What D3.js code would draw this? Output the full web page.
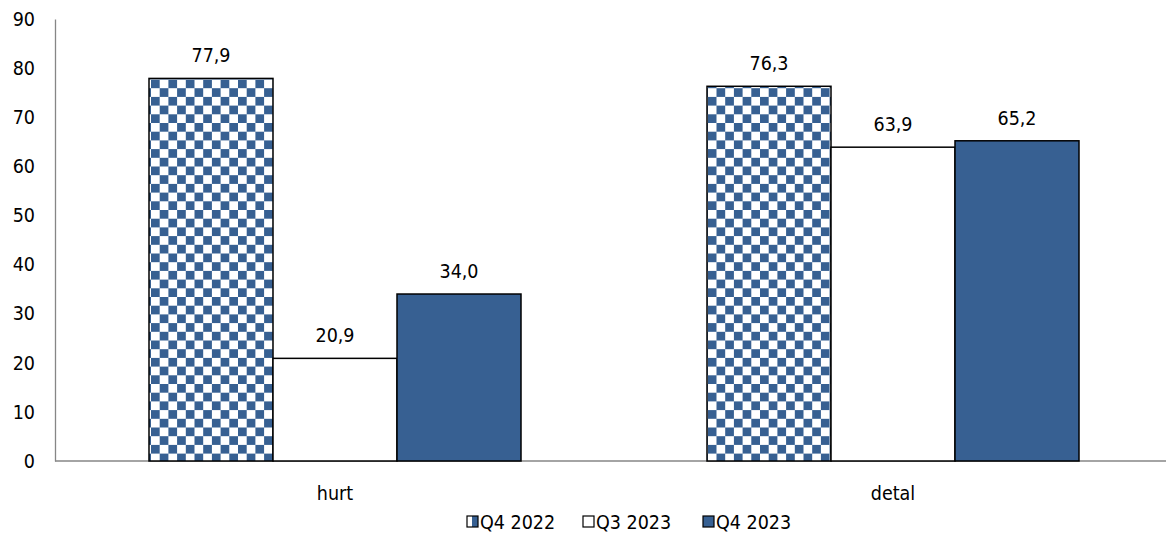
<!DOCTYPE html>
<html>
<head>
<meta charset="utf-8">
<script src="https://cdn.jsdelivr.net/npm/d3@7"></script>
<style>
  html, body { margin: 0; padding: 0; background: #fff; }
  svg { display: block; font-family: "DejaVu Sans Condensed", "DejaVu Sans", sans-serif; }
</style>
</head>
<body>
<svg id="chart" width="1166" height="545"></svg>
<script>
const categories = ["hurt", "detal"];
const seriesNames = ["Q4 2022", "Q3 2023", "Q4 2023"];
const valuesQ42022 = [77.9, 76.3];
const valuesQ32023 = [20.9, 63.9];
const valuesQ42023 = [34.0, 65.2];
const yTicks = [0, 10, 20, 30, 40, 50, 60, 70, 80, 90];

const series = [
  { name: seriesNames[0], values: valuesQ42022, fill: "url(#checker)", legendFill: "url(#checkerSmall)" },
  { name: seriesNames[1], values: valuesQ32023, fill: "#ffffff", legendFill: "#ffffff" },
  { name: seriesNames[2], values: valuesQ42023, fill: "#376092", legendFill: "#376092" }
];

const svg = d3.select("#chart");
const plotLeft = 56, plotRight = 1172, plotTop = 19, plotBottom = 461;
const blue = "#376092";
const fs = 19.5;

const defs = svg.append("defs");
const pat = defs.append("pattern").attr("id", "checker")
  .attr("patternUnits", "userSpaceOnUse").attr("width", 17.4).attr("height", 17.4)
  .attr("x", 151).attr("y", 79.5);
pat.append("rect").attr("width", 17.4).attr("height", 17.4).attr("fill", "#fff");
pat.append("rect").attr("width", 8.7).attr("height", 8.7).attr("fill", blue);
pat.append("rect").attr("x", 8.7).attr("y", 8.7).attr("width", 8.7).attr("height", 8.7).attr("fill", blue);

const pat2 = defs.append("pattern").attr("id", "checkerSmall")
  .attr("patternUnits", "userSpaceOnUse").attr("width", 11).attr("height", 11)
  .attr("x", 467).attr("y", 516);
pat2.append("rect").attr("width", 11).attr("height", 11).attr("fill", "#fff");
pat2.append("rect").attr("width", 6).attr("height", 11).attr("fill", blue);

const x0 = d3.scaleBand().domain(categories).range([plotLeft, plotRight])
  .paddingInner(1/3).paddingOuter(1/6);
const x1 = d3.scaleBand().domain(seriesNames).range([0, x0.bandwidth()]).padding(0);
const y = d3.scaleLinear().domain([0, 90]).range([plotBottom, plotTop]);

// Y axis
const yAxis = svg.append("g").attr("transform", `translate(${plotLeft - 1},0)`)
  .call(d3.axisLeft(y).tickValues(yTicks).tickSize(0).tickPadding(20).tickFormat(d3.format("d")));
yAxis.select(".domain").attr("stroke", "#868686").attr("stroke-width", 1.3);
yAxis.selectAll("text").attr("font-size", fs).attr("fill", "#000")
  .attr("font-family", "'DejaVu Sans Condensed', 'DejaVu Sans', sans-serif");

// X axis line
svg.append("line").attr("x1", plotLeft - 1).attr("x2", plotRight).attr("y1", plotBottom).attr("y2", plotBottom)
  .attr("stroke", "#868686").attr("stroke-width", 1.3);

// Bars
const groups = svg.append("g").selectAll("g").data(series).join("g");
groups.selectAll("rect").data(s => s.values.map((v, i) => ({ v, cat: categories[i], s })))
  .join("rect")
  .attr("x", d => x0(d.cat) + x1(d.s.name))
  .attr("y", d => y(d.v))
  .attr("width", x1.bandwidth())
  .attr("height", d => plotBottom - y(d.v))
  .attr("fill", d => d.s.fill)
  .attr("stroke", "#000")
  .attr("stroke-width", 1.5);

// Value labels
const fmt = v => d3.format(".1f")(v).replace(".", ",");
groups.selectAll("text").data(s => s.values.map((v, i) => ({ v, cat: categories[i], s })))
  .join("text")
  .attr("x", d => x0(d.cat) + x1(d.s.name) + x1.bandwidth() / 2)
  .attr("y", d => y(d.v) - 16)
  .attr("text-anchor", "middle")
  .attr("font-size", fs)
  .text(d => fmt(d.v));

// Category labels
svg.append("g").selectAll("text").data(categories).join("text")
  .attr("x", d => x0(d) + x0.bandwidth() / 2)
  .attr("y", 500)
  .attr("text-anchor", "middle")
  .attr("font-size", fs)
  .text(d => d);

// Legend
const legendX = [467, 583, 703];
const lg = svg.append("g").selectAll("g").data(series).join("g")
  .attr("transform", (d, i) => `translate(${legendX[i]},516)`);
lg.append("rect").attr("width", 11).attr("height", 11)
  .attr("fill", d => d.legendFill).attr("stroke", "#000").attr("stroke-width", 1.2);
lg.append("text").attr("x", 13).attr("y", 13).attr("font-size", fs).text(d => d.name);
</script>
</body>
</html>
